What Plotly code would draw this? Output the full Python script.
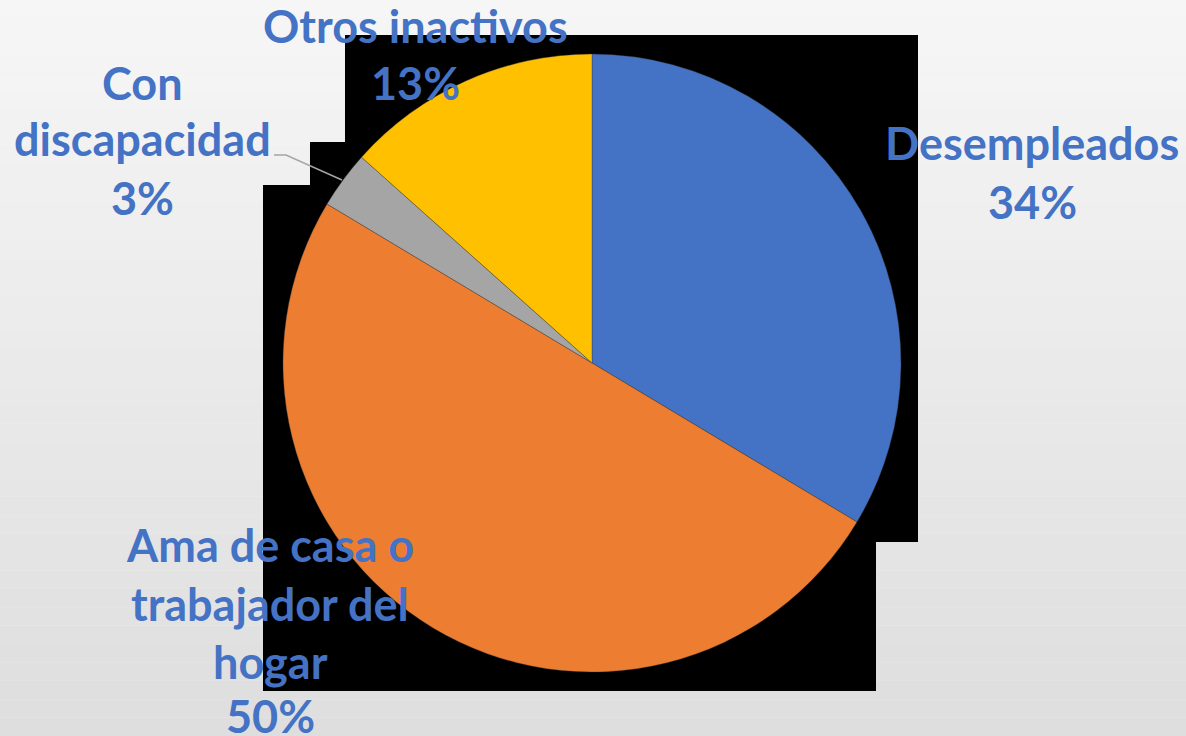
import plotly.graph_objects as go

# ---- data ----
labels = ["Desempleados", "Ama de casa o<br>trabajador del<br>hogar", "Con<br>discapacidad", "Otros inactivos"]
values = [33.6, 50.0, 3.0, 13.4]
colors = ["#4472C4", "#ED7D31", "#A5A5A5", "#FFC000"]

W, H = 1186, 736


def px(x):
    return x / W


def py(y):
    return 1 - y / H


fig = go.Figure()

fig.add_trace(go.Pie(
    labels=labels,
    values=values,
    sort=False,
    direction="clockwise",
    rotation=0,
    marker=dict(colors=colors, line=dict(color="rgba(60,60,60,0.6)", width=0.6)),
    textinfo="none",
    hoverinfo="label+percent",
    showlegend=False,
    domain=dict(x=[px(283), px(901)], y=[py(672), py(54)]),
))

shapes = []
# background gradient bands
n = 40
top = (246, 246, 246)
bot = (222, 222, 222)
for i in range(n):
    t = i / (n - 1)
    c = tuple(int(round(top[k] + (bot[k] - top[k]) * t)) for k in range(3))
    shapes.append(dict(type="rect", xref="paper", yref="paper", layer="below",
                       x0=0, x1=1, y0=1 - (i + 1) / n, y1=1 - i / n,
                       fillcolor="rgb(%d,%d,%d)" % c, line=dict(width=0)))

# black backdrop behind the pie
pts = [(345, 35), (918, 35), (918, 542), (876, 542), (876, 691), (263, 691),
       (263, 185), (310, 185), (310, 142), (345, 142)]
path = "M " + " L ".join("%.5f,%.5f" % (px(x), py(y)) for x, y in pts) + " Z"
shapes.append(dict(type="path", xref="paper", yref="paper", layer="below", path=path,
                   fillcolor="black", line=dict(width=0)))

# leader line for "Con discapacidad"
lpts = [(274, 155), (286, 155), (342, 180)]
lpath = "M " + " L ".join("%.5f,%.5f" % (px(x), py(y)) for x, y in lpts)
shapes.append(dict(type="path", xref="paper", yref="paper", layer="above", path=lpath,
                   line=dict(color="#A5A5A5", width=1.5)))

fig.update_layout(shapes=shapes)

# labels
total = sum(values)
pct = ["%d%%" % round(v / total * 100) for v in values]
# (center x, list of y centers for each line)
label_pos = [
    (1032, [143, 202]),
    (270, [545, 604, 662, 716]),
    (142, [83, 139, 198]),
    (415, [26, 83]),
]
font = dict(family="Lato", size=45, color="#4472C4")
annotations = []
for lab, p, (cx, ys) in zip(labels, pct, label_pos):
    lines = lab.split("<br>") + [p]
    for line, yy in zip(lines, ys):
        annotations.append(dict(text="<b>%s</b>" % line, x=px(cx), y=py(yy), xref="paper", yref="paper",
                                xanchor="center", yanchor="middle", showarrow=False, font=font))
fig.update_layout(annotations=annotations)

fig.update_layout(
    width=W, height=H,
    margin=dict(l=0, r=0, t=0, b=0),
    paper_bgcolor="#EFEFEF",
    plot_bgcolor="rgba(0,0,0,0)",
)

fig.write_html("out.html",
               config={"displayModeBar": False},
               post_script="document.body.style.margin='0';document.body.style.overflow='hidden';")
